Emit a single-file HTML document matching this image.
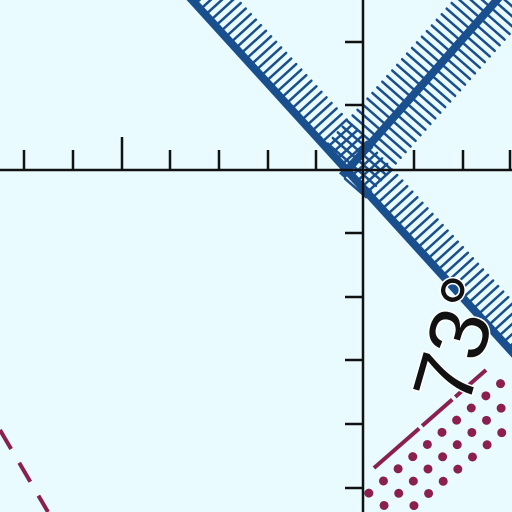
<!DOCTYPE html>
<html><head><meta charset="utf-8"><style>
html,body{margin:0;padding:0;background:#e9fbfe}
svg{display:block}
</style></head><body>
<svg id="c" width="512" height="512" viewBox="0 0 512 512">
<rect width="512" height="512" fill="#e9fbfe"/>
<g id="hatch"></g>
<g id="axes"></g>
<g id="pink"></g>
<text x="0" y="0" transform="translate(485,348) rotate(-74)" text-anchor="middle" font-family="Liberation Sans, sans-serif" font-size="84" fill="#111" stroke="#fff" stroke-width="3" paint-order="stroke">73°</text>
</svg>
<script>
const xTicks=[24,73,122,170,219,268,316,414,463,510];
const yTicks=[42,105,233,297,360,424,488];
const NS='http://www.w3.org/2000/svg';
function ln(g,x1,y1,x2,y2,c,w,extra){const l=document.createElementNS(NS,'line');l.setAttribute('x1',x1);l.setAttribute('y1',y1);l.setAttribute('x2',x2);l.setAttribute('y2',y2);l.setAttribute('stroke',c);l.setAttribute('stroke-width',w);if(extra)for(const k in extra)l.setAttribute(k,extra[k]);g.appendChild(l);return l;}
const ax=document.getElementById('axes'),hg=document.getElementById('hatch'),pg=document.getElementById('pink');
const blue='#1a4f8e';
(function(){const x0=192,y0=0,dx=0.673,dy=0.74,nx=0.74,ny=-0.673;
 let e=ln(hg,x0-20*dx,y0-20*dy,x0+560*dx,y0+560*dy,blue,8);
 for(let t=-10;t<560;t+=7.5){const px=x0+t*dx,py=y0+t*dy;let h=ln(hg,px+4*nx,py+4*ny,px+34*nx,py+34*ny,blue,2.5,{'stroke-linecap':'round'});}
})();
(function(){const x0=342,y0=176,dx=0.66,dy=-0.75,nx=0.75,ny=0.66;
 let e=ln(hg,x0,y0,x0+300*dx,y0+300*dy,blue,8);
 for(let t=0;t<300;t+=7.5){const px=x0+t*dx,py=y0+t*dy;
  let h=ln(hg,px+4*nx,py+4*ny,px+32*nx,py+32*ny,blue,2.5,{'stroke-linecap':'round'});
  if(t>8){let h2=ln(hg,px-4*nx,py-4*ny,px-32*nx,py-32*ny,blue,2.5,{'stroke-linecap':'round'});}}
})();
let a1=ln(ax,0,170,512,170,'#111',2.5);
let a2=ln(ax,363,0,363,512,'#111',2.5);
xTicks.forEach(x=>{const t=ln(ax,x,170,x,x===122?137:150,'#111',2.5);});
yTicks.forEach(y=>{const t=ln(ax,345,y,363,y,'#111',2.5);});
const pc='#8a1f50';
let p1=ln(pg,374,468,486,370,pc,4,{'stroke-dasharray':'60 4 40 4'});
let p2=ln(pg,0,430,48,512,pc,4,{'stroke-dasharray':'22 16'});
const dx=0.77,dy=-0.64,nx=0.64,ny=0.77;
[16,32,48].forEach((off,i)=>{for(let t=-20;t<200;t+=19){const x=374+t*dx+off*nx+i*5,y=468+t*dy+off*ny;if(y>508||x>510||y<330)continue;const c=document.createElementNS(NS,'circle');c.setAttribute('cx',x);c.setAttribute('cy',y);c.setAttribute('r',4.5);c.setAttribute('fill',pc);


pg.appendChild(c);}});
</script>
</body></html>
